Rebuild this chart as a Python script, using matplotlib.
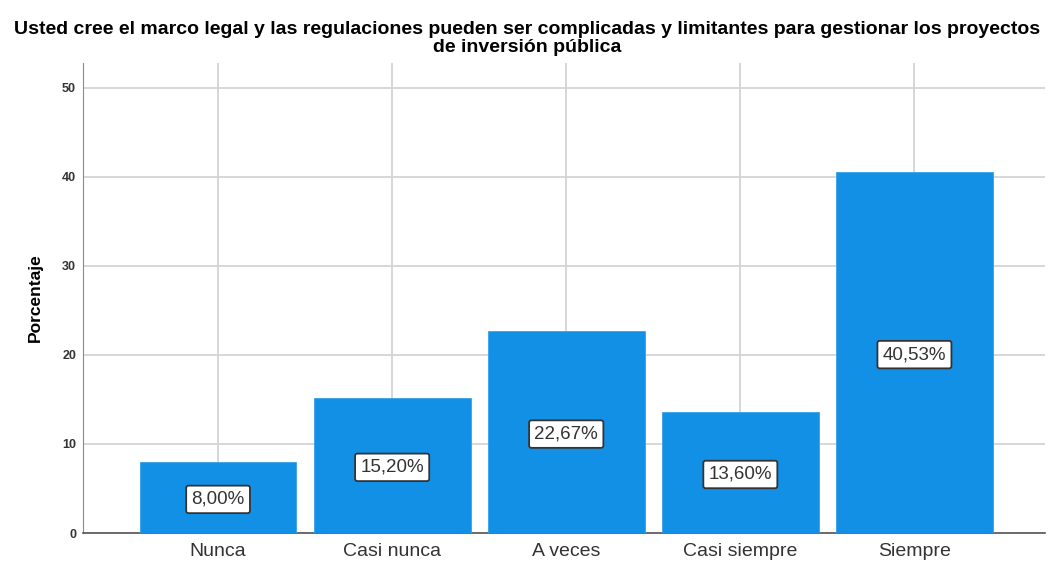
import matplotlib
matplotlib.use("Agg")
import matplotlib.pyplot as plt

categories = ["Nunca", "Casi nunca", "A veces", "Casi siempre", "Siempre"]
values = [8.00, 15.20, 22.67, 13.60, 40.53]
labels = ["8,00%", "15,20%", "22,67%", "13,60%", "40,53%"]
yticks = [0, 10, 20, 30, 40, 50]

plt.rcParams['font.family'] = ['Liberation Sans', 'DejaVu Sans']

fig = plt.figure(figsize=(10.53, 5.62), dpi=100)
ax = fig.add_axes([0.0788, 0.0516, 0.9136, 0.8363])

x = list(range(len(categories)))
ax.bar(x, values, width=0.9, color="#1290E6", edgecolor="#3aa0ea", linewidth=0.6, zorder=3)

for xi, v, lab in zip(x, values, labels):
    ax.text(xi, v / 2, lab, ha="center", va="center_baseline", fontsize=13.5, color="#333333", zorder=4,
            bbox=dict(boxstyle="round,pad=0.28,rounding_size=0.12", fc="white", ec="#333333", lw=1.3))

ax.set_xlim(-0.776, 4.75)
ax.set_ylim(0, 52.8)
ax.set_xticks(x)
ax.set_xticklabels(categories, fontsize=14, color="#333333")
ax.set_yticks(yticks)
ax.set_yticklabels([str(t) for t in yticks], fontsize=9, fontweight="bold", color="#333333")
ax.tick_params(axis="both", length=0)
ax.tick_params(axis="x", pad=7)
ax.tick_params(axis="y", pad=5)

ax.grid(True, color="#d4d4d4", linewidth=1.3, zorder=0)
ax.set_axisbelow(True)
for s in ["top", "right"]:
    ax.spines[s].set_visible(False)
ax.spines["left"].set_color("#8c8c8c")
ax.spines["bottom"].set_color("#555555")
ax.spines["bottom"].set_linewidth(1.2)

ax.set_ylabel("Porcentaje", fontsize=12.5, fontweight="bold", color="#000000", labelpad=14)

fig.text(0.501, 0.932, "Usted cree el marco legal y las regulaciones pueden ser complicadas y limitantes para gestionar los proyectos\nde inversión pública",
         ha="center", va="center", fontsize=14, fontweight="bold", linespacing=1.1)

fig.savefig("out.png", dpi=100)
